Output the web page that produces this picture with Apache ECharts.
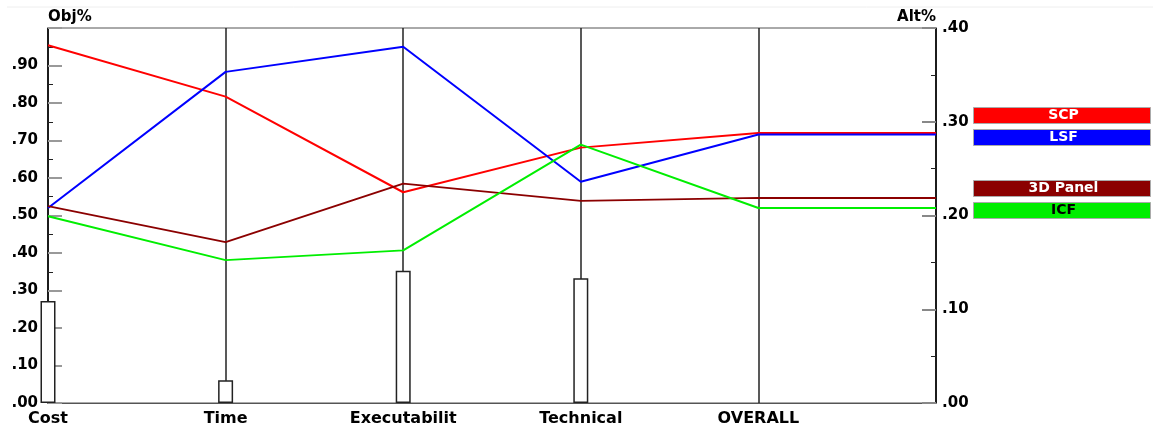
<!DOCTYPE html>
<html>
<head>
<meta charset="utf-8">
<script src="https://cdn.jsdelivr.net/npm/echarts@6/dist/echarts.min.js"></script>
<style>
  html, body { margin: 0; padding: 0; background: #fff; }
  #chart { width: 1153px; height: 423px; }
</style>
</head>
<body>
<div id="chart"></div>
<script>
// data
const categories = ['Cost', 'Time', 'Executabilit', 'Technical', 'OVERALL', ''];
const weights = [0.272, 0.061, 0.353, 0.333, '-', '-'];   // Obj% bars
const scp = [0.954, 0.817, 0.562, 0.681, 0.72, 0.72];
const lsf = [0.52, 0.883, 0.95, 0.59, 0.716, 0.716];
const panel3d = [0.525, 0.429, 0.585, 0.539, 0.547, 0.547];
const icf = [0.498, 0.381, 0.407, 0.689, 0.52, 0.52];
const seriesNames = ['SCP', 'LSF', '3D Panel', 'ICF'];
const seriesColors = ['#ff0000', '#0000ff', '#8b0000', '#00ee00'];
const legendText = ['#ffffff', '#ffffff', '#ffffff', '#000000'];
const legendTops = [107, 129, 180, 202];

const font = 'DejaVu Sans';
const fmt = (v) => v.toFixed(2).replace(/^0/, '');

const myChart = echarts.init(document.getElementById('chart'));

// legend boxes down the right side
const legendGraphic = seriesNames.map((name, i) => ({
  type: 'group',
  left: 973,
  top: legendTops[i],
  children: [
    {
      type: 'rect',
      shape: { x: 0, y: 0, width: 177, height: 16 },
      style: { fill: seriesColors[i], stroke: '#aaa', lineWidth: 1 }
    },
    {
      type: 'text',
      x: 90, y: 8,
      style: {
        text: name, fill: legendText[i], align: 'center', verticalAlign: 'middle',
        font: 'bold 14px "' + font + '"'
      }
    }
  ]
}));

const lineSeries = [scp, lsf, panel3d, icf].map((d, i) => ({
  name: seriesNames[i],
  type: 'line',
  data: d,
  symbol: 'none',
  z: 5,
  lineStyle: { color: seriesColors[i], width: 2 },
  itemStyle: { color: seriesColors[i] }
}));

const option = {
  animation: false,
  grid: {
    left: 48, right: 217, top: 28, bottom: 20,
    outerBoundsMode: 'none',
    show: true, borderColor: '#555', borderWidth: 1
  },
  graphic: [
    {
      type: 'line',
      shape: { x1: 7, y1: 7, x2: 1153, y2: 7 },
      style: { stroke: '#eeeeee', lineWidth: 1 }
    }
  ].concat(legendGraphic),
  xAxis: {
    type: 'category',
    data: categories,
    boundaryGap: false,
    axisLine: { show: true, lineStyle: { color: '#555', width: 1 } },
    axisTick: { show: false },
    axisLabel: {
      interval: 0, margin: 8, color: '#000',
      fontFamily: font, fontWeight: 'bold', fontSize: 16
    },
    splitLine: { show: true, lineStyle: { color: '#222', width: 1.5 } }
  },
  yAxis: [
    {
      type: 'value',
      min: 0, max: 1, interval: 0.1,
      name: 'Obj%',
      nameLocation: 'end',
      nameGap: 3,
      nameTextStyle: { align: 'left', color: '#000', fontFamily: font, fontWeight: 'bold', fontSize: 15 },
      axisLine: { show: true, lineStyle: { color: '#111', width: 1.5 } },
      axisTick: { show: true, inside: true, length: 14, lineStyle: { color: '#999', width: 2 } },
      minorTick: { show: true, splitNumber: 2, length: 5, lineStyle: { color: '#222', width: 1 } },
      splitLine: { show: false },
      axisLabel: {
        margin: 10, color: '#000', fontFamily: font, fontWeight: 'bold', fontSize: 15,
        formatter: (v) => (v >= 1 ? '' : fmt(v))
      }
    },
    {
      type: 'value',
      min: 0, max: 0.4, interval: 0.1,
      position: 'right',
      name: 'Alt%',
      nameLocation: 'end',
      nameGap: 3,
      nameTextStyle: { align: 'right', color: '#000', fontFamily: font, fontWeight: 'bold', fontSize: 15 },
      axisLine: { show: true, lineStyle: { color: '#111', width: 1.5 } },
      axisTick: { show: true, inside: true, length: 14, lineStyle: { color: '#888', width: 2 } },
      minorTick: { show: true, splitNumber: 2, length: 5, lineStyle: { color: '#222', width: 1 } },
      splitLine: { show: false },
      axisLabel: {
        margin: 6, color: '#000', fontFamily: font, fontWeight: 'bold', fontSize: 15,
        formatter: fmt
      }
    }
  ],
  series: [
    {
      name: 'Weight',
      type: 'bar',
      data: weights,
      yAxisIndex: 0,
      barWidth: 15,
      clip: false,
      z: 3,
      itemStyle: { color: '#fff', borderColor: '#222', borderWidth: 1.5 }
    }
  ].concat(lineSeries)
};

myChart.setOption(option);
</script>
</body>
</html>
